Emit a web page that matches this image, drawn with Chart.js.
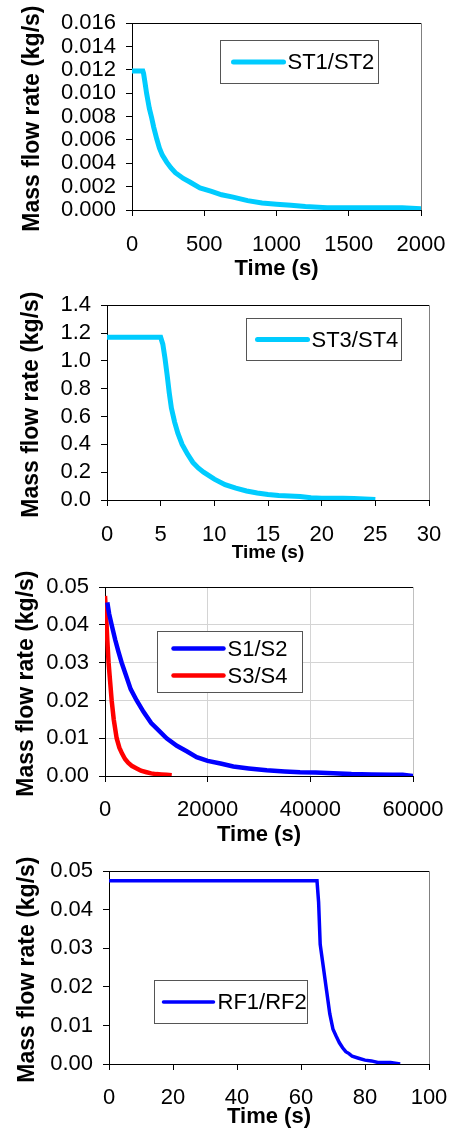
<!DOCTYPE html>
<html>
<head>
<meta charset="utf-8">
<script src="https://cdn.jsdelivr.net/npm/chart.js@4/dist/chart.umd.min.js"></script>
<style>
  html, body { margin: 0; padding: 0; background: #fff; }
  #wrap { position: relative; width: 451px; height: 1130px; }
  canvas { position: absolute; left: 0; }
</style>
</head>
<body>
<div id="wrap">
  <canvas id="c1" width="451" height="282" style="top:0px"></canvas>
  <canvas id="c2" width="451" height="282" style="top:282px"></canvas>
  <canvas id="c3" width="451" height="284" style="top:564px"></canvas>
  <canvas id="c4" width="451" height="282" style="top:848px"></canvas>
</div>
<script>
/* =========================
   DATA
========================= */
const st12Time = [0, 40, 75, 80, 90, 101, 120, 136, 150, 171, 190, 210, 240, 270, 300, 355, 400, 470, 550, 620, 700, 800, 900, 1000, 1100, 1200, 1350, 1500, 1700, 1870, 2000];
const st12Flow = [0.0119, 0.0119, 0.0119, 0.0117, 0.0109, 0.0100, 0.0087, 0.0079, 0.0071, 0.0061, 0.0053, 0.0047, 0.0041, 0.0036, 0.0032, 0.0027, 0.0024, 0.0019, 0.0016, 0.0013, 0.0011, 0.0008, 0.0006, 0.0005, 0.0004, 0.0003, 0.0002, 0.0002, 0.0002, 0.0002, 0.0001];

const st34Time = [0, 5, 5.2, 5.4, 5.6, 5.8, 6.0, 6.3, 6.6, 7.0, 7.5, 8.0, 8.5, 9.0, 10, 11, 12, 13, 14, 15, 16, 17, 18, 19, 20, 21, 22, 23, 24, 25];
const st34Flow = [1.17, 1.17, 1.12, 1.02, 0.90, 0.77, 0.66, 0.56, 0.48, 0.40, 0.33, 0.27, 0.23, 0.20, 0.15, 0.11, 0.085, 0.065, 0.05, 0.04, 0.032, 0.028, 0.025, 0.016, 0.012, 0.012, 0.012, 0.010, 0.008, 0.004];

const s12Time = [450, 800, 1300, 2000, 2600, 3250, 4000, 5000, 6170, 7500, 9000, 10500, 12000, 14000, 16000, 17860, 20000, 22500, 25000, 28000, 31500, 35000, 38000, 41000, 44500, 48000, 52000, 56000, 58000, 60000];
const s12Flow = [0.046, 0.043, 0.040, 0.036, 0.033, 0.030, 0.027, 0.023, 0.020, 0.017, 0.014, 0.012, 0.010, 0.008, 0.0065, 0.005, 0.004, 0.0033, 0.0025, 0.002, 0.0015, 0.0012, 0.001, 0.0009, 0.0007, 0.0005, 0.0004, 0.0003, 0.0003, 0.0];

const s34Time = [0, 200, 450, 700, 1000, 1300, 1700, 2270, 2800, 3300, 3900, 4500, 5200, 6170, 7000, 8100, 9000, 10000, 11000, 12000, 13000];
const s34Flow = [0.0477, 0.043, 0.036, 0.030, 0.025, 0.020, 0.015, 0.010, 0.0075, 0.006, 0.0045, 0.0035, 0.0027, 0.002, 0.0014, 0.001, 0.0007, 0.0005, 0.0004, 0.0003, 0.0002];

const rf12Time = [0, 65, 65.5, 66, 67, 68, 69, 70, 71, 72, 73, 74, 75, 76, 78, 80, 82, 84, 88, 91];
const rf12Flow = [0.0475, 0.0475, 0.042, 0.031, 0.025, 0.019, 0.013, 0.009, 0.0072, 0.0055, 0.0042, 0.0032, 0.0027, 0.002, 0.0015, 0.001, 0.0008, 0.0004, 0.0004, 0.0];

const xTitle = "Time (s)";
const yTitle = "Mass flow rate (kg/s)";

/* =========================
   PLUGINS
========================= */
const FONT = "'Liberation Sans', Arial, sans-serif";
Chart.defaults.font.family = FONT;
Chart.defaults.color = "#000";

// top + right border of plot area
const framePlugin = {
  id: "frame",
  beforeDatasetsDraw(chart, args, opts) {
    const { ctx, chartArea: a } = chart;
    ctx.save();
    ctx.lineWidth = 1;
    ctx.strokeStyle = opts.top;
    ctx.beginPath();
    ctx.moveTo(a.left, Math.round(a.top) + 0.5);
    ctx.lineTo(a.right, Math.round(a.top) + 0.5);
    ctx.stroke();
    ctx.strokeStyle = opts.right;
    ctx.beginPath();
    ctx.moveTo(Math.round(a.right) + 0.5, a.top);
    ctx.lineTo(Math.round(a.right) + 0.5, a.bottom);
    ctx.stroke();
    ctx.restore();
  }
};

// rotated y title (not squeezed to plot height)
const yTitlePlugin = {
  id: "ytitle",
  afterDraw(chart, args, opts) {
    const { ctx, chartArea: a } = chart;
    ctx.save();
    ctx.translate(opts.x, (a.top + a.bottom) / 2 + opts.dy);
    ctx.rotate(-Math.PI / 2);
    ctx.font = `bold ${opts.size}px ${FONT}`;
    ctx.fillStyle = "#000";
    ctx.textAlign = "center";
    ctx.textBaseline = "middle";
    ctx.fillText(opts.text, 0, 0);
    ctx.restore();
  }
};

// boxed legend inside the plot
const boxLegendPlugin = {
  id: "boxlegend",
  afterDraw(chart, args, opts) {
    const { ctx, chartArea: a } = chart;
    const x = Math.round(a.left + opts.left) + 0.5;
    const y = Math.round(a.top + opts.top) + 0.5;
    ctx.save();
    ctx.fillStyle = "#fff";
    ctx.fillRect(x, y, opts.w, opts.h);
    ctx.strokeStyle = "#555";
    ctx.lineWidth = 1;
    ctx.strokeRect(x, y, opts.w, opts.h);
    const sets = chart.data.datasets;
    const start = y + (opts.h - sets.length * opts.rowH) / 2 + opts.rowH / 2;
    ctx.font = `${opts.size}px ${FONT}`;
    ctx.textBaseline = "middle";
    ctx.textAlign = "left";
    sets.forEach((ds, i) => {
      const ry = start + i * opts.rowH;
      ctx.strokeStyle = ds.borderColor;
      ctx.lineWidth = ds.borderWidth;
      ctx.lineCap = "round";
      ctx.beginPath();
      ctx.moveTo(x + opts.pad, ry);
      ctx.lineTo(x + opts.pad + 50, ry);
      ctx.stroke();
      ctx.fillStyle = "#000";
      ctx.fillText(ds.label, x + opts.pad + 54, ry + 1);
    });
    ctx.restore();
  }
};

/* =========================
   CHART BUILDER
========================= */
function makeChart(id, p) {
  return new Chart(document.getElementById(id), {
    type: "line",
    data: {
      datasets: p.series.map(s => ({
        label: s.label,
        data: s.t.map((t, i) => ({ x: t, y: s.v[i] })),
        borderColor: s.color,
        backgroundColor: s.color,
        borderWidth: s.width,
        pointRadius: 0,
        tension: 0,
        fill: false
      }))
    },
    options: {
      responsive: false,
      animation: false,
      events: [],
      layout: { padding: { top: p.top, right: p.right, left: 0, bottom: 0 } },
      plugins: {
        legend: { display: false },
        tooltip: { enabled: false },
        frame: { top: "#000", right: p.rightColor },
        ytitle: { text: yTitle, x: p.yTitleX, dy: 2, size: 23 },
        boxlegend: p.legend
      },
      scales: {
        x: {
          type: "linear",
          min: 0,
          max: p.xMax,
          afterFit: s => { s.height = p.xH; },
          ticks: {
            stepSize: p.xStep,
            autoSkip: false,
            maxRotation: 0,
            padding: 2,
            // tall line box pushes the labels down without widening the side padding
            font: { size: 22, lineHeight: p.xLabelLH },
            color: "#000",
            callback: v => String(v)
          },
          grid: {
            drawOnChartArea: p.grid,
            color: "#d4d4d4",
            tickColor: "#000",
            tickLength: 6
          },
          border: { color: "#000" },
          title: {
            display: true,
            text: xTitle,
            color: "#000",
            font: { size: p.xTitleSize, weight: "bold" },
            padding: 0
          }
        },
        y: {
          min: 0,
          max: p.yMax,
          afterFit: s => { s.width = p.left; },
          ticks: {
            stepSize: p.yStep,
            autoSkip: false,
            padding: 10,
            font: { size: 22 },
            color: "#000",
            callback: v => Number(v).toFixed(p.yDec)
          },
          grid: {
            drawOnChartArea: p.grid,
            color: "#d4d4d4",
            tickColor: "#000",
            tickLength: 6
          },
          border: { color: "#000" }
        }
      }
    },
    plugins: [framePlugin, yTitlePlugin, boxLegendPlugin]
  });
}

/* =========================
   PANELS
========================= */
makeChart("c1", {
  series: [{ label: "ST1/ST2", t: st12Time, v: st12Flow, color: "#00CCFF", width: 5 }],
  top: 17, right: 30, left: 132, xH: 72, xLabelLH: 2.45, xTitleSize: 22,
  xMax: 2000, xStep: 500, yMax: 0.016, yStep: 0.002, yDec: 3,
  grid: false, rightColor: "#808080", yTitleX: 33,
  legend: { left: 88, top: 17, w: 158, h: 43, rowH: 30, pad: 13, size: 22 }
});

makeChart("c2", {
  series: [{ label: "ST3/ST4", t: st34Time, v: st34Flow, color: "#00CCFF", width: 5 }],
  top: 16, right: 22, left: 107, xH: 64, xLabelLH: 2.45, xTitleSize: 19,
  xMax: 30, xStep: 5, yMax: 1.4, yStep: 0.2, yDec: 1,
  grid: false, rightColor: "#808080", yTitleX: 32,
  legend: { left: 139, top: 13, w: 155, h: 42, rowH: 30, pad: 11, size: 22 }
});

makeChart("c3", {
  series: [
    { label: "S1/S2", t: s12Time, v: s12Flow, color: "#0000FF", width: 4.5 },
    { label: "S3/S4", t: s34Time, v: s34Flow, color: "#FF0000", width: 4.5 }
  ],
  top: 14, right: 38, left: 105, xH: 72, xLabelLH: 2.36, xTitleSize: 22,
  xMax: 60000, xStep: 20000, yMax: 0.05, yStep: 0.01, yDec: 2,
  grid: true, rightColor: "#c0c0c0", yTitleX: 27,
  legend: { left: 52, top: 44, w: 145, h: 61, rowH: 27, pad: 16, size: 22 }
});

makeChart("c4", {
  series: [{ label: "RF1/RF2", t: rf12Time, v: rf12Flow, color: "#0000FF", width: 3.5 }],
  top: 16, right: 22, left: 109, xH: 66, xLabelLH: 2.36, xTitleSize: 22,
  xMax: 100, xStep: 20, yMax: 0.05, yStep: 0.01, yDec: 2,
  grid: false, rightColor: "#808080", yTitleX: 28,
  legend: { left: 45, top: 109, w: 153, h: 43, rowH: 30, pad: 9, size: 22 }
});
</script>
</body>
</html>
